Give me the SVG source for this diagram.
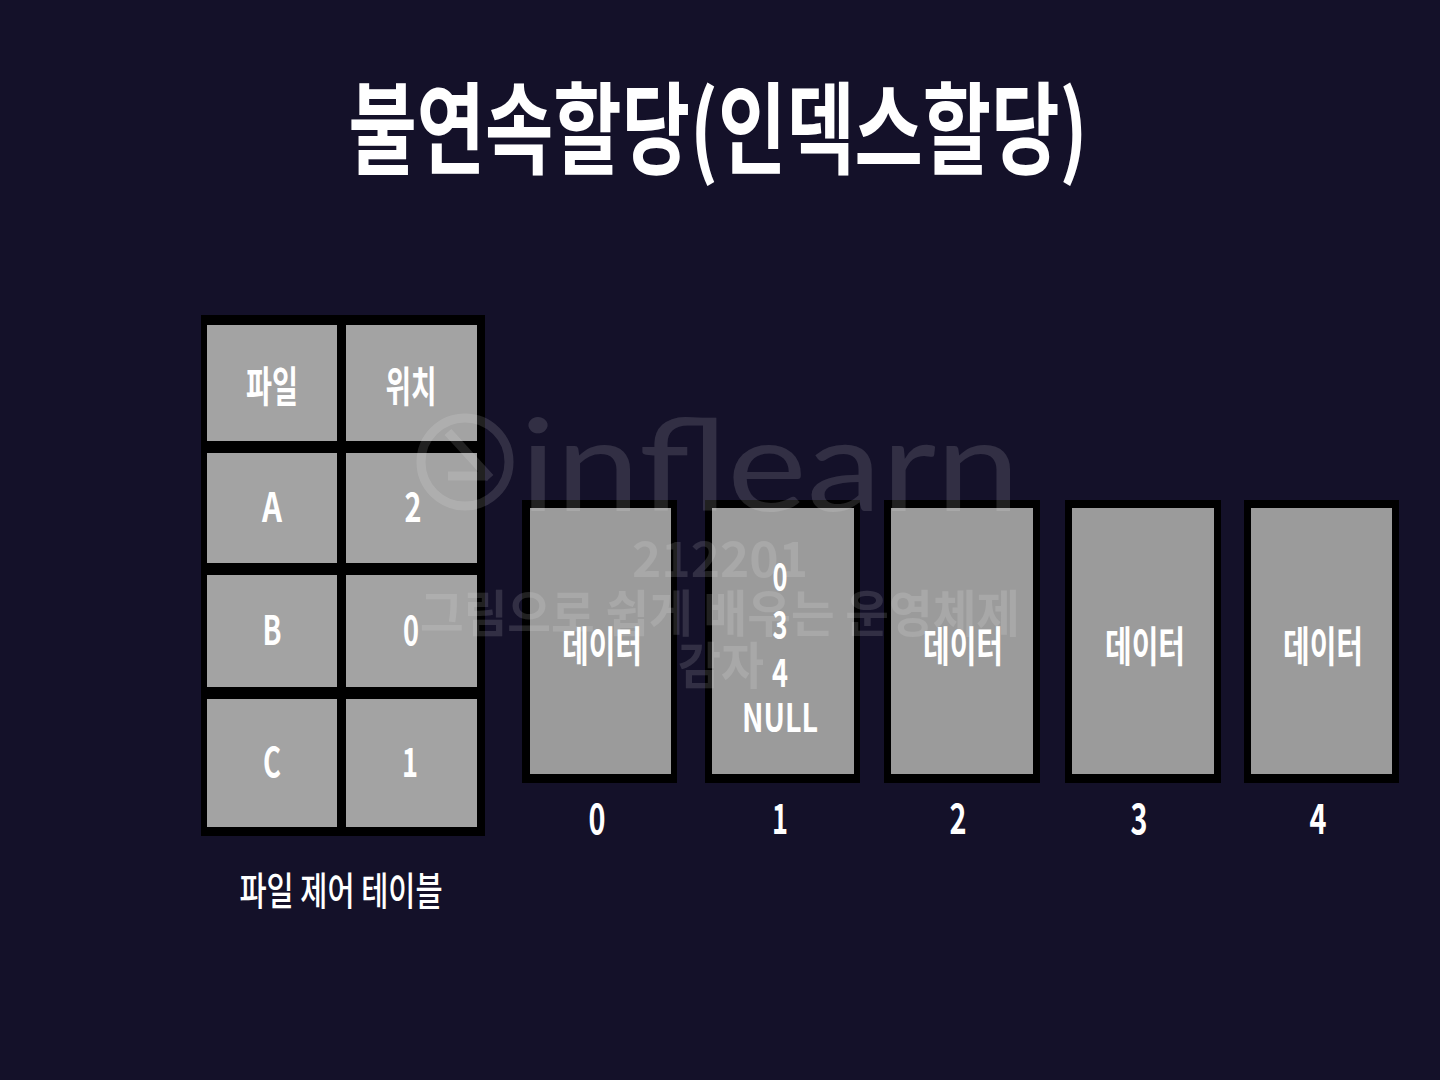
<svg xmlns="http://www.w3.org/2000/svg" width="1440" height="1080" viewBox="0 0 1440 1080">
<style>
.t{font-family:"Noto Sans CJK KR","Noto Sans CJK SC",sans-serif;fill:#ffffff;text-anchor:middle}
.b{font-weight:700}
.m{font-weight:500}
.frame{fill:#000000}
.cell{fill:#a3a3a3}
.blk{fill:#9b9b9b}
.wm{fill:#ffffff;fill-opacity:0.13;font-family:"Noto Sans CJK KR","Noto Sans CJK SC",sans-serif;font-weight:700;text-anchor:middle}
</style>
<rect x="0" y="0" width="1440" height="1080" fill="#141129"/>

<g id="title">
<text class="t b" x="718" y="166" font-size="100" textLength="739" lengthAdjust="spacingAndGlyphs">불연속할당(인덱스할당)</text>
</g>

<g id="file-control-table">
<rect class="frame" x="201" y="315" width="284" height="521"/>
<g id="cell-header-file"><rect class="cell" x="207" y="325" width="130" height="116"/><text class="t b" x="272" y="402" font-size="42" textLength="52" lengthAdjust="spacingAndGlyphs">파일</text></g>
<g id="cell-header-pos"><rect class="cell" x="346" y="325" width="131" height="116"/><text class="t b" x="411" y="402" font-size="42" textLength="51" lengthAdjust="spacingAndGlyphs">위치</text></g>
<g id="cell-A"><rect class="cell" x="207" y="453" width="130" height="110"/><text class="t b" x="272" y="522" font-size="40" textLength="20" lengthAdjust="spacingAndGlyphs">A</text></g>
<g id="cell-A-pos"><rect class="cell" x="346" y="453" width="131" height="110"/><text class="t b" x="413" y="522" font-size="40" textLength="17" lengthAdjust="spacingAndGlyphs">2</text></g>
<g id="cell-B"><rect class="cell" x="207" y="575" width="130" height="112"/><text class="t b" x="272" y="645" font-size="40" textLength="19" lengthAdjust="spacingAndGlyphs">B</text></g>
<g id="cell-B-pos"><rect class="cell" x="346" y="575" width="131" height="112"/><text class="t b" x="411" y="645" font-size="40" textLength="16" lengthAdjust="spacingAndGlyphs">0</text></g>
<g id="cell-C"><rect class="cell" x="207" y="699" width="130" height="128"/><text class="t b" x="272" y="777" font-size="40" textLength="18" lengthAdjust="spacingAndGlyphs">C</text></g>
<g id="cell-C-pos"><rect class="cell" x="346" y="699" width="131" height="128"/><text class="t b" x="410" y="777" font-size="40" textLength="16" lengthAdjust="spacingAndGlyphs">1</text></g>
<text class="t m" x="341" y="905" font-size="39" textLength="203" lengthAdjust="spacingAndGlyphs">파일 제어 테이블</text>
</g>

<g id="block-0">
<rect class="frame" x="522" y="500" width="155" height="283"/>
<rect class="blk" x="530" y="508" width="141" height="266"/>
<text class="t b" x="602" y="662" font-size="42" textLength="80" lengthAdjust="spacingAndGlyphs">데이터</text>
<text class="t b" x="597" y="834" font-size="42" textLength="17" lengthAdjust="spacingAndGlyphs">0</text>
</g>

<g id="block-1">
<rect class="frame" x="705" y="500" width="155" height="283"/>
<rect class="blk" x="712" y="508" width="142" height="266"/>
<text class="t b" x="780" y="591" font-size="39" textLength="15" lengthAdjust="spacingAndGlyphs">0</text>
<text class="t b" x="780" y="639" font-size="39" textLength="15" lengthAdjust="spacingAndGlyphs">3</text>
<text class="t b" x="780" y="687" font-size="39" textLength="16" lengthAdjust="spacingAndGlyphs">4</text>
<text class="t b" x="780" y="732" font-size="39" textLength="76" lengthAdjust="spacingAndGlyphs">NULL</text>
<text class="t b" x="780" y="834" font-size="42" textLength="16" lengthAdjust="spacingAndGlyphs">1</text>
</g>

<g id="block-2">
<rect class="frame" x="884" y="500" width="156" height="283"/>
<rect class="blk" x="891" y="508" width="142" height="266"/>
<text class="t b" x="963" y="662" font-size="42" textLength="80" lengthAdjust="spacingAndGlyphs">데이터</text>
<text class="t b" x="958" y="834" font-size="42" textLength="17" lengthAdjust="spacingAndGlyphs">2</text>
</g>

<g id="block-3">
<rect class="frame" x="1065" y="500" width="156" height="283"/>
<rect class="blk" x="1072" y="508" width="142" height="266"/>
<text class="t b" x="1145" y="662" font-size="42" textLength="80" lengthAdjust="spacingAndGlyphs">데이터</text>
<text class="t b" x="1139" y="834" font-size="42" textLength="17" lengthAdjust="spacingAndGlyphs">3</text>
</g>

<g id="block-4">
<rect class="frame" x="1244" y="500" width="155" height="283"/>
<rect class="blk" x="1251" y="508" width="141" height="266"/>
<text class="t b" x="1323" y="662" font-size="42" textLength="80" lengthAdjust="spacingAndGlyphs">데이터</text>
<text class="t b" x="1318" y="834" font-size="42" textLength="17" lengthAdjust="spacingAndGlyphs">4</text>
</g>

<g id="connectors"/>

<g id="watermark">
<circle cx="465" cy="462" r="44" fill="none" stroke="#ffffff" stroke-opacity="0.13" stroke-width="9"/>
<path d="M448 432 L490 478 M448 476 L488 476" fill="none" stroke="#ffffff" stroke-opacity="0.13" stroke-width="9"/>
<text x="770" y="511" font-family="Lato,'Open Sans',sans-serif" font-weight="400" font-size="128" fill="#ffffff" fill-opacity="0.13" text-anchor="middle" textLength="500" lengthAdjust="spacingAndGlyphs">inflearn</text>
<text class="wm" x="720" y="577" font-size="48" textLength="176" lengthAdjust="spacingAndGlyphs">212201</text>
<text class="wm" x="720" y="632" font-size="50" textLength="600" lengthAdjust="spacingAndGlyphs">그림으로 쉽게 배우는 운영체제</text>
<text class="wm" x="721" y="684" font-size="50" textLength="86" lengthAdjust="spacingAndGlyphs">감자</text>
</g>
</svg>
